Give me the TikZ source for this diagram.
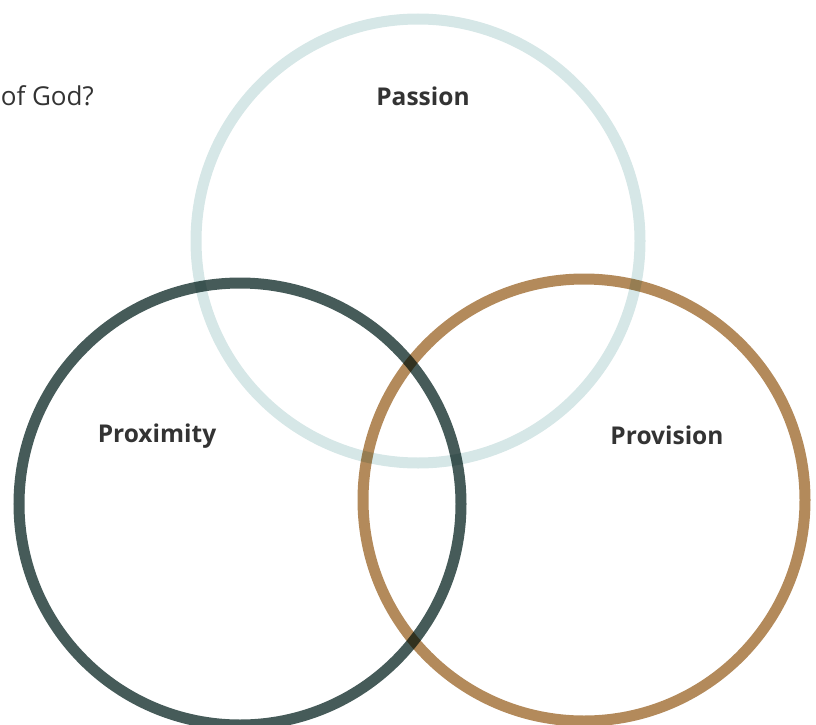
\documentclass[tikz,border=0pt]{standalone}
\usepackage{fontspec}
\setmainfont{Open Sans}
\usetikzlibrary{calc}
\definecolor{passioncol}{HTML}{D6E7E7}
\definecolor{proxcol}{HTML}{465B59}
\definecolor{provcol}{HTML}{B38A5B}
\definecolor{labelcol}{HTML}{333333}
\begin{document}
\begin{tikzpicture}[x=1pt,y=-1pt,
    ring/.style={line width=11pt},
    lbl/.style={text=labelcol,font=\fontsize{24.5}{28}\selectfont\bfseries,inner sep=0pt}]
        \useasboundingbox (0,0) rectangle (816,725);
        \clip (0,0) rectangle (816,725);
        \node[anchor=base east,text=labelcol,font=\fontsize{26}{30}\selectfont,inner sep=0pt] (q) at (94,105) {of God?};
        \begin{scope}[blend mode=multiply]
        \coordinate (Pa) at (418,241);
        \coordinate (Px) at (240,504);
        \coordinate (Pv) at (584,500);
        \draw[ring,passioncol] (Pa) circle[radius=222pt];
        \draw[ring,proxcol] (Px) circle[radius=221pt];
        \draw[ring,provcol] (Pv) circle[radius=221pt];
        \end{scope}
        \node[lbl] (passion) at (423,96) {Passion};
        \node[lbl] (proximity) at (157,436) {Proximity};
        \node[lbl] (provision) at (667,435) {Provision};
    \end{tikzpicture}
\end{document}
